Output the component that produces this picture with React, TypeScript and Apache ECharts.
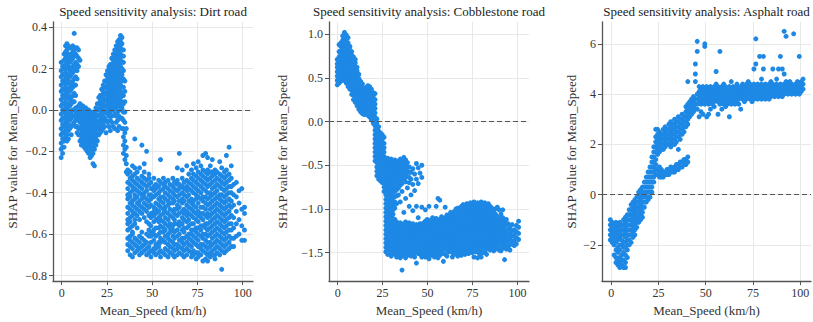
import React, { useEffect, useRef } from "react";
import * as echarts from "echarts";

// ---------- data (x = Mean_Speed km/h, ys = SHAP values) ----------
// Dirt road: y in hundredths
const dirtCols: [number, number[]][] = [
  [-0.3, [23, 19, 16, 12, 9, 5, 2, -2, -5, -9, -12, -16, -19, -23]],
  [0.5, [21, 17, 14, 10, 7, 3, 0, -4, -7, -11, -14, -18, -21]],
  [1.3, [27, 24, 20, 17, 13, 10, 6, 3, -1, -4, -8, -11, -15, -18]],
  [2.1, [31, 28, 25, 22, 18, 15, 11, 8, 4, 1, -3, -6, -10, -13]],
  [2.9, [32, 29, 26, 23, 20, 16, 13, 9, 6, 2, -1, -5, -8, -12, -15]],
  [3.7, [31, 27, 24, 21, 17, 14, 10, 7, 3, 0, -3, -7, -10, -14]],
  [4.5, [30, 26, 23, 19, 16, 12, 9, 5, 2, -2, -5, -9]],
  [5.3, [30, 27, 24, 20, 17, 13, 10, 6, 3, -1, -4, -8, -12]],
  [6.1, [31, 28, 25, 21, 18, 14, 11, 7, 4, 0, -3, -7]],
  [6.9, [37, 29, 26, 22, 19, 15, 12, 8, 4, 0, -3, -6]],
  [7.7, [30, 27, 23, 20, 16, 12, 7, 1, -2, -5, -8]],
  [8.5, [30, 26, 22, 19, 15, -1, -4, -8, -11]],
  [9.3, [29, 25, 21, 2, -2, -5, -9, -12]],
  [10.1, [24, 3, 0, -3, -6, -9, -12, -15]],
  [10.9, [1, -2, -5, -8, -11, -14, -17]],
  [11.7, [2, -1, -4, -7, -10, -13, -16]],
  [12.5, [0, -3, -6, -9, -12, -15, -18]],
  [13.3, [1, -2, -5, -8, -11, -14, -17, -19]],
  [14.1, [-1, -4, -7, -10, -13, -16, -20]],
  [14.9, [0, -3, -6, -9, -12, -15, -18, -21]],
  [15.7, [-2, -5, -8, -11, -14, -17, -20, -23]],
  [16.5, [-1, -4, -7, -10, -13, -16, -19, -22]],
  [17.3, [-3, -6, -9, -12, -15, -18, -21, -26]],
  [18.1, [-1, -4, -7, -10, -13, -16, -19, -27]],
  [18.9, [1, -2, -5, -8, -11, -14, -17]],
  [19.7, [3, 0, -3, -6, -9, -12, -15]],
  [20.5, [6, 3, 0, -3, -6, -9, -12]],
  [21.3, [7, 4, 1, -2, -5, -8, -11]],
  [22.1, [10, 7, 5, 2, -1, -4, -7, -10]],
  [22.9, [12, 9, 6, 3, 0, -3, -6, -9]],
  [23.7, [14, 11, 8, 5, 2, -1, -4, -8]],
  [24.5, [17, 14, 11, 8, 5, 2, -1, -5, -11]],
  [25.3, [19, 16, 13, 10, 7, 4, 1, -2, -6]],
  [26.1, [21, 18, 15, 12, 9, 6, 3, 0, -3, -8]],
  [26.9, [22, 20, 17, 14, 11, 8, 5, 2, -1, -5, -10]],
  [27.7, [25, 22, 19, 16, 13, 10, 7, 4, 1, -3, -6]],
  [28.5, [27, 24, 21, 18, 15, 12, 9, 6, 3, 0, -8]],
  [29.3, [29, 26, 23, 20, 17, 14, 11, 8, 5, 2, -2, -9]],
  [30.1, [31, 28, 25, 22, 19, 16, 13, 10, 7, 4, 1, -3, -6]],
  [30.9, [33, 30, 27, 24, 21, 18, 15, 12, 9, 6, 3, -1, -5, -10]],
  [31.7, [34, 32, 29, 26, 23, 20, 17, 14, 11, 8, 5, 2, -3, -8]],
  [32.5, [36, 33, 30, 27, 24, 21, 18, 15, 12, 9, 6, 3, 0, -4]],
  [33.3, [35, 32, 29, 26, 23, 20, 17, 14, 11, 8, 4, 1, -4, -9]],
  [34.1, [29, 26, 23, 19, 15, 11, 7, 3, -1, -5, -9, -13, -17, -21]],
  [34.9, [14, 9, 4, -1, -6, -11, -15, -19, -24]],
  [35.7, [-9, -18, -22, -26, -30]],
  [36.5, [-29, -31, -35, -38, -41, -43, -47, -50, -53, -55, -58, -62, -65, -68]],
  [37.8, [-30, -33, -36, -40, -42, -45, -48, -52, -54, -57, -61, -63, -66, -70]],
  [39.1, [-27, -32, -34, -37, -39, -44, -46, -49, -51, -56, -59, -60, -64, -67, -71]],
  [40.4, [-14, -28, -31, -35, -38, -41, -43, -47, -50, -53, -55, -62, -65, -69]],
  [41.7, [-30, -33, -36, -39, -42, -45, -48, -51, -57, -63, -66, -68]],
  [43.0, [-28, -34, -37, -40, -44, -46, -49, -53, -61, -64, -67, -70]],
  [44.3, [-17, -32, -35, -38, -41, -43, -47, -50, -59, -62, -66, -69]],
  [45.6, [-26, -30, -33, -36, -40, -42, -45, -48, -52, -63, -65, -68]],
  [46.9, [-20, -34, -37, -39, -43, -46, -49, -54, -60, -64, -67, -70]],
  [48.2, [-31, -33, -36, -41, -44, -47, -51, -55, -58, -61, -66, -69]],
  [49.3, [-35, -38, -41, -43, -46, -50, -52, -56, -59, -61, -64, -68, -71]],
  [50.9, [-33, -37, -39, -42, -47, -49, -51, -54, -58, -60, -63, -67, -69]],
  [52.0, [-36, -38, -41, -45, -48, -50, -53, -57, -61, -65, -67, -70]],
  [53.6, [-34, -37, -40, -43, -46, -49, -52, -54, -57, -60, -64, -66, -69]],
  [54.6, [-24, -35, -39, -42, -44, -47, -51, -53, -56, -59, -62, -64, -68, -71]],
  [56.2, [-33, -36, -38, -42, -45, -48, -50, -54, -57, -59, -63, -69]],
  [57.2, [-35, -37, -40, -43, -47, -49, -52, -55, -58, -61, -64, -67, -70]],
  [58.8, [-34, -38, -41, -44, -46, -50, -53, -56, -60, -62, -65, -68, -71]],
  [59.8, [-36, -39, -42, -45, -48, -51, -55, -57, -59, -63, -66, -69]],
  [61.4, [-33, -37, -40, -43, -45, -49, -52, -56, -58, -61, -64, -67, -70]],
  [62.3, [-35, -38, -41, -44, -48, -50, -53, -55, -59, -62, -65, -68, -71]],
  [63.9, [-28, -34, -36, -39, -42, -46, -48, -51, -55, -58, -61, -65, -67, -70]],
  [65.0, [-21, -36, -38, -41, -44, -47, -50, -54, -56, -60, -63, -66, -69]],
  [66.6, [-29, -33, -37, -40, -43, -45, -49, -52, -55, -58, -62, -64, -67, -70]],
  [67.6, [-35, -38, -41, -44, -48, -50, -53, -57, -59, -62, -65, -68, -71]],
  [69.1, [-27, -34, -37, -39, -42, -46, -49, -51, -54, -57, -61, -64, -67, -70]],
  [70.2, [-31, -35, -38, -41, -44, -47, -50, -53, -56, -60, -62, -65, -68]],
  [71.7, [-29, -33, -36, -39, -43, -45, -48, -51, -55, -58, -60, -63, -66, -69, -71]],
  [72.8, [-26, -31, -34, -37, -40, -44, -46, -49, -52, -55, -58, -61, -64, -68, -70]],
  [74.3, [-28, -32, -35, -38, -41, -43, -47, -50, -53, -57, -59, -62, -65, -69, -72]],
  [75.4, [-25, -30, -33, -36, -39, -42, -45, -49, -51, -54, -57, -60, -63, -66, -69, -71]],
  [76.9, [-27, -31, -34, -37, -40, -43, -47, -50, -52, -56, -58, -61, -65, -67, -70]],
  [78.0, [-22, -29, -32, -35, -38, -42, -44, -47, -50, -53, -56, -60, -62, -65, -68, -73]],
  [79.5, [-21, -30, -33, -36, -39, -42, -45, -48, -51, -55, -57, -60, -63, -66, -69, -72]],
  [80.6, [-23, -29, -31, -34, -37, -40, -43, -46, -50, -52, -55, -58, -61, -64, -67, -70, -73]],
  [82.1, [-27, -30, -33, -36, -40, -42, -45, -48, -51, -54, -57, -60, -64, -66, -69, -71]],
  [83.2, [-24, -30, -32, -35, -38, -41, -44, -47, -50, -53, -56, -59, -62, -65, -68, -70]],
  [84.7, [-29, -31, -34, -37, -40, -43, -46, -49, -52, -55, -58, -61, -64, -67, -70, -72]],
  [85.8, [-30, -33, -36, -39, -42, -45, -48, -51, -54, -57, -60, -63, -66, -69]],
  [87.3, [-25, -31, -34, -37, -41, -43, -46, -49, -52, -55, -58, -61, -64, -67, -70]],
  [88.4, [-28, -32, -35, -38, -41, -44, -47, -50, -53, -56, -59, -62, -65, -68, -77]],
  [89.9, [-30, -33, -36, -39, -42, -45, -48, -51, -54, -57, -60, -63, -66, -69]],
  [91.0, [-22, -29, -32, -35, -38, -41, -44, -47, -50, -53, -56, -59, -62, -65, -68]],
  [92.5, [-18, -31, -34, -37, -40, -43, -46, -49, -52, -55, -58, -61, -64, -67]],
  [93.7, [-27, -33, -37, -40, -44, -47, -51, -55, -58, -62, -66]],
  [95.0, [-36, -41, -46, -52, -57, -62, -66]],
  [96.5, [-35, -42, -49, -55, -61]],
  [98.0, [-39, -45, -53, -60]],
  [99.5, [-38, -48, -56, -63]],
  [101.0, [-47, -50, -58, -63]],
];

// Cobblestone road: y in hundredths
const cobbleCols: [number, number[]][] = [
  [-0.2, [42, 47, 52, 57, 62, 66, 71]],
  [0.8, [44, 49, 54, 59, 64, 69, 74, 80, 88]],
  [1.8, [46, 51, 56, 61, 66, 71, 76, 81, 86, 90]],
  [2.8, [48, 53, 58, 63, 68, 73, 78, 83, 88, 93, 98]],
  [3.8, [47, 52, 57, 62, 67, 72, 77, 82, 87, 92, 97, 102]],
  [4.8, [44, 49, 54, 59, 64, 69, 74, 79, 84, 89, 94, 99]],
  [5.8, [40, 45, 50, 55, 60, 65, 70, 75, 80, 85, 90, 96]],
  [6.8, [37, 42, 47, 52, 57, 62, 67, 72, 77, 82, 86]],
  [7.8, [31, 36, 41, 46, 51, 56, 61, 66, 71, 76, 80]],
  [8.8, [25, 30, 35, 40, 45, 50, 55, 60, 65, 70, 74]],
  [9.8, [22, 27, 32, 37, 42, 47, 52, 57, 62, 67, 71]],
  [10.8, [18, 23, 28, 33, 38, 43, 48, 53, 58, 62]],
  [11.8, [14, 19, 24, 29, 34, 39, 44, 49, 54]],
  [12.8, [11, 16, 21, 26, 31, 36, 41, 46]],
  [13.8, [9, 14, 19, 24, 29, 34, 39, 43]],
  [14.8, [8, 13, 18, 23, 28, 33, 37]],
  [15.8, [10, 15, 20, 25, 30, 35, 39]],
  [16.8, [7, 12, 17, 22, 27, 32, 37, 41]],
  [17.8, [5, 10, 15, 20, 25, 30, 35, 40]],
  [18.8, [2, 7, 12, 17, 22, 27, 32, 37]],
  [19.8, [-2, 3, 8, 13, 18, 23, 28, 33]],
  [20.8, [-45, -40, -35, -30, -25, -20, -15, -10, -5, 0, 5, 10, 15, 20, 25, 32]],
  [21.8, [-62, -57, -52, -47, -42, -37, -32, -27, -22, -17, -12, -7, -2, 3]],
  [22.8, [-66, -61, -56, -51, -46, -41, -36, -31, -26, -21, -16, -11, -6]],
  [23.8, [-68, -63, -58, -53, -48, -43, -38, -33, -28, -23, -18, -13]],
  [24.8, [-70, -65, -60, -55, -50, -45, -40, -35, -30, -25, -20, -15]],
  [25.8, [-80, -75, -70, -65, -60, -55, -50, -45, -40, -35, -30, -25, -18]],
  [26.8, [-44, -49, -54, -59, -64, -69, -74, -79, -84, -89, -94, -99, -104, -109, -114, -119, -124, -129, -134, -139, -144, -149]],
  [27.8, [-42, -47, -52, -57, -62, -67, -72, -77, -82, -87, -92, -97, -102, -107, -112, -117, -122, -127, -132, -137, -142, -147, -152]],
  [28.8, [-45, -50, -55, -60, -65, -70, -75, -80, -85, -90, -95, -100, -105, -110, -115, -120, -125, -130, -135, -140, -145, -150]],
  [29.8, [-43, -48, -53, -58, -63, -68, -73, -78, -83, -88, -93, -98, -103, -108, -113, -118, -123, -128, -133, -138, -143, -148, -154]],
  [30.8, [-46, -51, -56, -61, -66, -71, -76, -81, -86, -91, -96, -101, -106, -111, -116, -121, -126, -131, -136, -141, -146, -151]],
  [31.8, [-44, -49, -54, -59, -64, -69, -74, -80, -86, -92, -99, -112, -117, -122, -127, -132, -137, -142, -147, -152]],
  [32.8, [-47, -52, -57, -62, -67, -72, -78, -85, -94, -115, -120, -125, -130, -135, -140, -145, -150, -155]],
  [33.8, [-45, -50, -55, -60, -65, -70, -76, -84, -118, -123, -128, -133, -138, -143, -148, -153]],
  [34.8, [-43, -48, -53, -58, -63, -68, -73, -92, -116, -121, -126, -131, -136, -141, -146, -151, -156]],
  [35.8, [-46, -51, -56, -61, -66, -71, -80, -119, -124, -129, -134, -139, -144, -149, -154, -170]],
  [36.8, [-41, -46, -51, -56, -61, -66, -104, -117, -122, -127, -132, -137, -142, -147, -152]],
  [37.8, [-44, -49, -54, -59, -64, -69, -88, -115, -120, -125, -130, -135, -140, -145, -150, -156]],
  [38.8, [-47, -52, -57, -63, -76, -118, -123, -128, -133, -138, -143, -148, -153]],
  [39.8, [-52, -58, -64, -70, -97, -116, -121, -126, -131, -136, -141, -146, -151]],
  [40.8, [-58, -66, -84, -119, -124, -129, -134, -139, -144, -149, -154]],
  [41.8, [-54, -72, -102, -117, -122, -127, -132, -137, -142, -147, -152]],
  [42.8, [-60, -79, -120, -125, -130, -135, -140, -145, -150, -155]],
  [43.8, [-48, -66, -97, -118, -123, -128, -133, -138, -143, -148, -162]],
  [44.8, [-53, -71, -110, -121, -126, -131, -136, -141, -146, -151]],
  [45.8, [-59, -117, -122, -127, -132, -137, -142, -147, -152]],
  [46.8, [-50, -64, -98, -119, -124, -129, -134, -139, -144, -149, -155]],
  [47.8, [-116, -121, -126, -131, -136, -141, -146, -151]],
  [48.8, [-101, -114, -119, -124, -129, -134, -139, -144, -149, -155]],
  [49.8, [-112, -117, -122, -127, -132, -137, -142, -147, -153]],
  [50.8, [-97, -115, -120, -125, -130, -135, -140, -145, -150, -157]],
  [51.8, [-113, -118, -123, -128, -133, -138, -143, -148, -153]],
  [52.8, [-110, -116, -121, -126, -131, -136, -141, -146, -151]],
  [53.8, [-114, -119, -124, -129, -134, -139, -144, -149, -155]],
  [54.8, [-97, -111, -117, -122, -127, -132, -137, -142, -147, -152]],
  [55.8, [-88, -115, -120, -125, -130, -135, -140, -145, -150, -156]],
  [56.8, [-90, -112, -118, -123, -128, -133, -138, -143, -148, -153]],
  [57.8, [-109, -114, -119, -124, -129, -134, -139, -144, -150]],
  [58.8, [-113, -116, -121, -126, -131, -136, -141, -146, -151, -160]],
  [59.8, [-98, -110, -115, -120, -125, -130, -135, -140, -145, -152]],
  [60.8, [-107, -112, -117, -122, -127, -132, -137, -142, -147, -154]],
  [61.8, [-111, -114, -119, -124, -129, -134, -139, -144, -149]],
  [62.8, [-104, -108, -113, -118, -123, -128, -133, -138, -143, -148]],
  [63.8, [-106, -110, -115, -120, -125, -130, -135, -140, -145, -150, -155]],
  [64.8, [-103, -107, -112, -117, -122, -127, -132, -137, -142, -147, -152]],
  [65.8, [-100, -105, -110, -115, -120, -125, -130, -135, -140, -145, -150]],
  [66.8, [-99, -103, -108, -113, -118, -123, -128, -133, -138, -143, -148, -154]],
  [67.8, [-101, -106, -111, -116, -121, -126, -131, -136, -141, -146, -151]],
  [68.8, [-97, -102, -107, -112, -117, -122, -127, -132, -137, -142, -147, -153]],
  [69.8, [-95, -100, -105, -110, -115, -120, -125, -130, -135, -140, -145, -150]],
  [70.8, [-97, -101, -106, -111, -116, -121, -126, -131, -136, -141, -146, -152]],
  [71.8, [-94, -99, -104, -109, -114, -119, -124, -129, -134, -139, -144, -149]],
  [72.8, [-96, -100, -105, -110, -115, -120, -125, -130, -135, -140, -145, -151]],
  [73.8, [-93, -98, -103, -108, -113, -118, -123, -128, -133, -138, -143, -148]],
  [74.8, [-95, -99, -104, -109, -114, -119, -124, -129, -134, -139, -144, -150]],
  [75.8, [-92, -97, -102, -107, -112, -117, -122, -127, -132, -137, -142, -147, -155]],
  [76.8, [-94, -98, -103, -108, -113, -118, -123, -128, -133, -138, -143, -149]],
  [77.8, [-93, -96, -101, -106, -111, -116, -121, -126, -131, -136, -141, -146, -156]],
  [78.8, [-95, -100, -105, -110, -115, -120, -125, -130, -135, -140, -145, -151]],
  [79.8, [-92, -97, -102, -107, -112, -117, -122, -127, -132, -137, -142, -148, -155]],
  [80.8, [-94, -99, -104, -109, -114, -119, -124, -129, -134, -139, -144, -150]],
  [81.8, [-93, -98, -103, -108, -113, -118, -123, -128, -133, -138, -143, -149]],
  [82.8, [-96, -101, -106, -111, -116, -121, -126, -131, -136, -141, -146, -152]],
  [83.8, [-94, -100, -105, -110, -115, -120, -125, -130, -135, -140, -145]],
  [84.8, [-97, -102, -107, -112, -117, -122, -127, -132, -137, -142, -147]],
  [85.8, [-99, -104, -109, -114, -119, -124, -129, -134, -139, -144]],
  [86.8, [-104, -108, -113, -118, -123, -128, -133, -138, -143, -148]],
  [87.8, [-100, -106, -111, -116, -121, -126, -131, -136, -141, -146]],
  [88.8, [-98, -109, -114, -119, -124, -129, -134, -139, -144]],
  [89.8, [-101, -112, -117, -122, -127, -132, -137, -142, -147]],
  [90.8, [-106, -111, -116, -121, -126, -131, -136, -141, -148]],
  [91.8, [-101, -110, -115, -120, -125, -130, -135, -140, -145]],
  [92.8, [-114, -119, -124, -129, -134, -139, -142, -158]],
  [93.8, [-112, -118, -125, -131, -138, -146]],
  [94.8, [-117, -123, -130, -136, -143]],
  [95.8, [-121, -128, -134, -141, -147]],
  [97.0, [-118, -125, -131, -138]],
  [98.2, [-124, -130, -136, -142]],
  [99.4, [-119, -126, -133, -140]],
  [100.6, [-114, -121, -128, -135]],
];

// Asphalt road: y in tenths
const asphaltCols: [number, number[]][] = [
  [-0.5, [-10, -12, -14, -16, -18]],
  [0.5, [-11, -13, -15, -17, -19]],
  [1.5, [-12, -14, -16, -18, -20, -24]],
  [2.5, [-11, -13, -15, -17, -19, -22, -25, -27]],
  [3.5, [-12, -14, -16, -18, -21, -23, -26, -28]],
  [4.5, [-11, -13, -15, -17, -20, -22, -25, -27, -29]],
  [5.5, [-12, -14, -16, -18, -20, -24, -26, -28]],
  [6.5, [-10, -12, -14, -16, -19, -21, -23, -26, -29]],
  [7.5, [-9, -11, -13, -15, -17, -19, -21, -24, -27, -29]],
  [8.5, [-8, -10, -12, -14, -16, -18, -20, -22, -25]],
  [9.5, [-6, -8, -10, -12, -14, -16, -18, -20]],
  [10.5, [-4, -6, -8, -10, -12, -14, -16, -19]],
  [11.5, [-3, -5, -7, -9, -11, -13, -15, -17]],
  [12.5, [-2, -4, -6, -8, -10, -12, -14, -16]],
  [13.5, [-1, -3, -5, -7, -9, -11, -13]],
  [14.5, [1, -1, -3, -5, -7, -9, -11]],
  [15.5, [2, 0, -2, -4, -6, -8, -10]],
  [16.5, [3, 1, -1, -3, -5, -7, -9]],
  [17.5, [5, 3, 1, -1, -3, -5]],
  [18.5, [7, 5, 3, 1, -1, -3]],
  [19.5, [9, 7, 5, 3, 1, -1, -2]],
  [20.5, [11, 9, 7, 5, 3, 1, -1]],
  [21.5, [15, 13, 11, 9, 7, 5, 3, 1]],
  [22.5, [19, 17, 15, 13, 11, 9, 7, 5]],
  [23.5, [26, 23, 21, 19, 17, 14, 12, 10, 8]],
  [24.5, [26, 24, 22, 20, 18, 16, 10, 8]],
  [25.5, [25, 23, 21, 19, 17, 11, 9, 7]],
  [26.5, [24, 22, 20, 18, 10, 8, 7]],
  [27.5, [26, 24, 22, 20, 18, 9, 7]],
  [28.5, [27, 25, 23, 21, 19, 9, 8]],
  [29.5, [26, 24, 22, 20, 10, 8]],
  [30.5, [28, 26, 24, 22, 20, 10, 8]],
  [31.5, [29, 27, 25, 23, 21, 19, 11, 9]],
  [32.5, [28, 26, 24, 22, 20, 10, 9]],
  [33.5, [30, 28, 26, 24, 22, 20, 11, 9]],
  [34.5, [29, 27, 25, 23, 21, 12, 10]],
  [35.5, [31, 29, 27, 25, 23, 18, 12, 10]],
  [36.5, [30, 28, 26, 24, 22, 13, 11]],
  [37.5, [32, 30, 28, 26, 24, 13, 11]],
  [38.5, [31, 29, 27, 25, 14, 12]],
  [39.5, [35, 33, 31, 29, 27, 14, 12]],
  [40.5, [36, 34, 32, 30, 28, 15, 13, 45]],
  [41.5, [37, 35, 33, 31]],
  [42.5, [36, 34, 32, 38]],
  [43.5, [37, 35, 33, 39]],
  [44.5, [38, 36, 34, 45, 48, 52]],
  [45.5, [40, 38, 36, 34, 57, 61]],
  [46.5, [39, 41, 43, 37, 31]],
  [47.5, [38, 40, 42, 36, 33]],
  [48.5, [39, 41, 43, 37, 32]],
  [49.5, [38, 40, 42, 36, 59, 60]],
  [50.5, [39, 41, 43, 37, 31]],
  [51.5, [38, 40, 42, 36, 32]],
  [52.5, [39, 41, 43, 37, 34]],
  [53.5, [38, 40, 42, 36]],
  [54.5, [39, 41, 43, 37, 35]],
  [55.5, [38, 40, 42, 44, 49]],
  [56.5, [39, 41, 43, 37, 32]],
  [57.5, [38, 40, 42, 36, 57]],
  [58.5, [39, 41, 43, 37, 34]],
  [59.5, [38, 40, 42, 36, 44]],
  [60.5, [39, 41, 43, 37, 35]],
  [61.5, [38, 40, 42, 36]],
  [62.5, [39, 41, 43, 37, 31]],
  [63.5, [38, 40, 42, 45, 36]],
  [64.5, [39, 41, 43, 37]],
  [65.5, [38, 40, 42, 36]],
  [66.5, [39, 41, 43, 37, 44]],
  [67.5, [40, 42, 38, 36]],
  [68.5, [39, 41, 43, 34]],
  [69.5, [40, 42, 38, 44]],
  [70.5, [39, 41, 43, 37]],
  [71.5, [40, 42, 38, 44]],
  [72.5, [39, 41, 43, 45]],
  [73.5, [40, 42, 38, 44]],
  [74.5, [39, 41, 43, 37]],
  [75.5, [40, 42, 44, 38, 50]],
  [76.5, [41, 43, 39, 62, 52]],
  [77.5, [40, 42, 44, 38]],
  [78.5, [41, 43, 39, 55]],
  [79.5, [40, 42, 44, 38, 46]],
  [80.5, [41, 43, 39, 55, 50]],
  [81.5, [40, 42, 44, 38]],
  [82.5, [41, 43, 39]],
  [83.5, [40, 42, 44, 38]],
  [84.5, [41, 43, 39, 45]],
  [85.5, [40, 42, 44, 50]],
  [86.5, [41, 43, 39]],
  [87.5, [40, 42, 44, 46]],
  [88.5, [41, 43, 39, 50]],
  [89.5, [42, 44, 40, 55]],
  [90.5, [41, 43, 39, 50]],
  [91.5, [42, 44, 40, 65, 48]],
  [92.5, [41, 43, 45, 63]],
  [93.5, [42, 44, 40]],
  [94.5, [41, 43, 45]],
  [95.5, [42, 44, 40]],
  [96.5, [43, 41, 64]],
  [97.5, [42, 44, 40]],
  [98.5, [43, 45, 41]],
  [99.5, [42, 44, 40, 55]],
  [100.5, [43, 45, 41]],
  [101.5, [44, 46, 42]],
];

const titles = [
  "Speed sensitivity analysis: Dirt road",
  "Speed sensitivity analysis: Cobblestone road",
  "Speed sensitivity analysis: Asphalt road",
];
const xTicks = [0, 25, 50, 75, 100];
const dirtYTicks = [-0.8, -0.6, -0.4, -0.2, 0, 0.2, 0.4];
const cobbleYTicks = [-1.5, -1.0, -0.5, 0, 0.5, 1.0];
const asphaltYTicks = [-2, 0, 2, 4, 6];
const xName = "Mean_Speed (km/h)";
const yName = "SHAP value for Mean_Speed";

function flatten(cols: [number, number[]][], scale: number): number[][] {
  const out: number[][] = [];
  for (const [x, ys] of cols) for (const y of ys) out.push([x, y * scale]);
  return out;
}

const FONT = "Liberation Serif";
const TEXT = "#333";
const SPINE = "#555";
const DOT = "#1e88e5";

const fmt = (dec: number) => (v: number) => {
  const s = v.toFixed(dec);
  return s.startsWith("-") ? "\u2212" + s.slice(1) : s;
};

export default function App() {
  const ref = useRef<HTMLDivElement>(null);
  useEffect(() => {
    if (!ref.current) return;
    const chart = echarts.init(ref.current, null, { renderer: "svg" });

    const grids = [
      { left: 53, top: 22, width: 200, height: 263 },
      { left: 329, top: 22, width: 200, height: 263 },
      { left: 602, top: 22, width: 209, height: 263 },
    ];
    const xr = [
      [-4.8, 105.7],
      [-4.8, 106.4],
      [-4.9, 105.7],
    ];
    const yr = [
      [-0.827, 0.425],
      [-1.826, 1.139],
      [-3.44, 6.87],
    ];
    const yTicks = [dirtYTicks, cobbleYTicks, asphaltYTicks];
    const yDec = [1, 1, 0];
    const yGap = [34, 40, 24];
    const data = [
      flatten(dirtCols, 0.01),
      flatten(cobbleCols, 0.01),
      flatten(asphaltCols, 0.1),
    ];

    const axisCommon = (ticks: number[], formatter: (v: number) => string) => ({
      type: "value" as const,
      axisLine: { show: true, onZero: false, lineStyle: { color: SPINE, width: 1.3 } },
      axisTick: { show: true, length: 4, customValues: ticks, lineStyle: { color: SPINE, width: 1 } },
      axisLabel: {
        customValues: ticks,
        color: TEXT,
        fontSize: 12,
        fontFamily: FONT,
        margin: 6,
        formatter,
        showMinLabel: true,
        showMaxLabel: true,
      },
      splitLine: { show: true, lineStyle: { color: "#e8e8e8", width: 1 } },
      nameTextStyle: { color: TEXT, fontSize: 13, fontFamily: FONT },
    });

    const option: any = {
      animation: false,
      backgroundColor: "#fff",
      textStyle: { fontFamily: FONT },
      grid: grids.map((g) => ({ ...g, containLabel: false })),
      xAxis: grids.map((_, i) => ({
        ...axisCommon(xTicks, (v: number) => String(v)),
        gridIndex: i,
        min: xr[i][0],
        max: xr[i][1],
        name: xName,
        nameLocation: "middle",
        nameGap: 21,
      })),
      yAxis: grids.map((_, i) => ({
        ...axisCommon(yTicks[i], fmt(yDec[i])),
        gridIndex: i,
        min: yr[i][0],
        max: yr[i][1],
        name: yName,
        nameLocation: "middle",
        nameGap: yGap[i],
      })),
      graphic: grids.map((g, i) => ({
        type: "text",
        x: g.left + g.width / 2,
        y: 5,
        style: {
          text: titles[i],
          fill: "#222",
          fontSize: 13,
          fontFamily: FONT,
          align: "center",
          verticalAlign: "top",
        },
      })),
      series: grids.map((_, i) => ({
        type: "scatter",
        xAxisIndex: i,
        yAxisIndex: i,
        data: data[i],
        symbol: "circle",
        symbolSize: 5,
        itemStyle: { color: DOT, opacity: 1 },
        silent: true,
        markLine: {
          silent: true,
          symbol: ["none", "none"],
          label: { show: false },
          lineStyle: { color: "#555", type: [5, 3], width: 1.2 },
          data: [{ yAxis: 0 }],
        },
      })),
    };
    chart.setOption(option);
    return () => chart.dispose();
  }, []);

  return (
    <div
      ref={ref}
      style={{ position: "fixed", left: 0, top: 0, width: 813, height: 322, background: "#fff" }}
    />
  );
}
